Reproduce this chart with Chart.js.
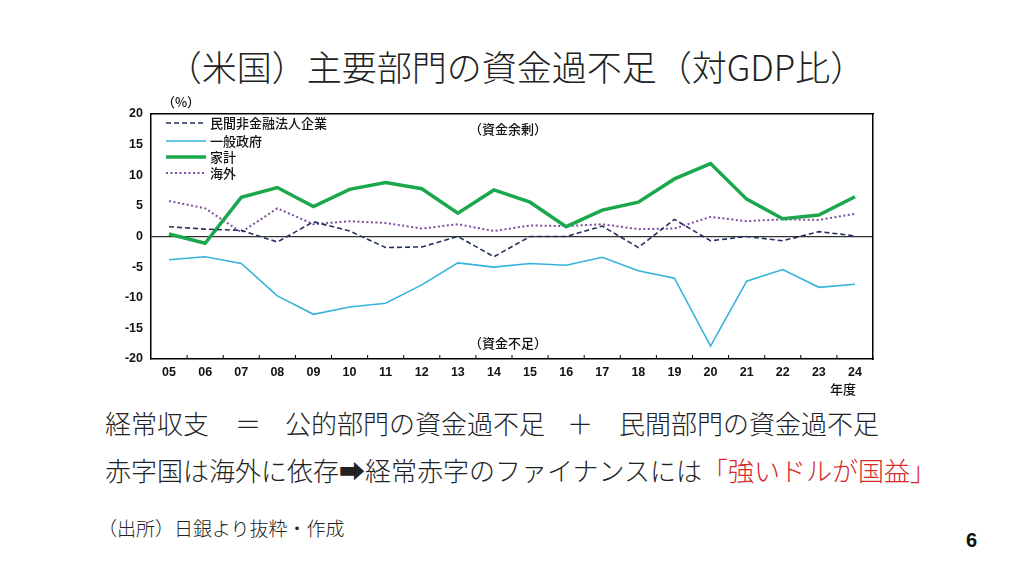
<!DOCTYPE html>
<html>
<head>
<meta charset="utf-8">
<script src="https://cdn.jsdelivr.net/npm/chart.js@4"></script>
<style>
  body { margin: 0; width: 1032px; height: 582px; background: #fff; position: relative; overflow: hidden;
         font-family: "Noto Sans CJK JP", "Noto Sans", sans-serif; color: #222; }
  .t { position: absolute; white-space: nowrap; line-height: 1; }
  #title { left: 0; width: 1032px; text-align: center; top: 48px; font-size: 35px; font-weight: 300; }
  .big { font-size: 26px; font-weight: 300; }
  #src { left: 98px; top: 518px; font-size: 19px; font-weight: 300; }
  #page { left: 966px; top: 530px; font-size: 20px; font-weight: bold; font-family: "Liberation Sans", Arial, sans-serif; color: #111; }
  #wrap { position: absolute; left: 100px; top: 90px; width: 800px; height: 320px; }
</style>
</head>
<body>
<div class="t" id="title">（米国）主要部門の資金過不足（対GDP比）</div>
<div class="t big" style="left:105px;top:410px">経常収支</div>
<div class="t big" style="left:235px;top:410px">＝</div>
<div class="t big" style="left:285px;top:410px">公的部門の資金過不足</div>
<div class="t big" style="left:567px;top:410px">＋</div>
<div class="t big" style="left:619px;top:410px">民間部門の資金過不足</div>
<div class="t big" style="left:105px;top:457px">赤字国は海外に依存➡経常赤字のファイナンスには<span style="color:#d42a2a">「強いドルが国益」</span></div>
<div class="t" id="src">（出所）日銀より抜粋・作成</div>
<div class="t" id="page">6</div>
<div id="wrap"><canvas id="chart" width="800" height="320"></canvas></div>
<script>
// fiscal years
const years = ["05","06","07","08","09","10","11","12","13","14","15","16","17","18","19","20","21","22","23","24"];

// % of GDP
const corporate = [1.6, 1.2, 1.0, -0.9, 2.4, 0.9, -1.8, -1.7, 0.0, -3.3, 0.0, 0.0, 1.7, -1.8, 2.8, -0.7, 0.0, -0.7, 0.8, 0.1];
const government = [-3.8, -3.3, -4.4, -9.7, -12.7, -11.5, -10.9, -7.9, -4.3, -5.0, -4.4, -4.7, -3.4, -5.6, -6.8, -17.9, -7.3, -5.4, -8.3, -7.8];
const household = [0.4, -1.1, 6.4, 8.0, 4.9, 7.7, 8.8, 7.8, 3.8, 7.6, 5.6, 1.6, 4.3, 5.6, 9.4, 11.9, 6.1, 2.9, 3.5, 6.5];
const overseas = [5.8, 4.6, 0.7, 4.6, 2.0, 2.5, 2.2, 1.3, 2.0, 0.9, 1.8, 1.7, 2.0, 1.2, 1.3, 3.2, 2.5, 2.8, 2.7, 3.7];

const seriesNames = ["民間非金融法人企業", "一般政府", "家計", "海外"];

const jp = '"Noto Sans CJK JP", sans-serif';
const tickFont = { family: '"Liberation Sans", Arial, sans-serif', size: 12.5, weight: '600' };

// legend, notes and inner tick marks
const extras = {
  id: 'extras',
  afterDraw(chart) {
    const ctx = chart.ctx;
    const a = chart.chartArea;
    const xs = chart.scales.x;
    ctx.save();

    // tick marks pointing up from the bottom axis
    ctx.strokeStyle = '#000';
    ctx.lineWidth = 1;
    for (let i = 1; i < years.length; i++) {
      let x = (xs.getPixelForValue(i - 1) + xs.getPixelForValue(i)) / 2;
      ctx.beginPath();
      ctx.moveTo(x, a.bottom);
      ctx.lineTo(x, a.bottom - 4);
      ctx.stroke();
    }

    // legend
    ctx.font = '500 13px ' + jp;
    ctx.textBaseline = 'middle';
    ctx.fillStyle = '#111';
    let rows = [33, 51, 67, 83];
    chart.data.datasets.forEach((ds, i) => {
      let y = rows[i];
      ctx.strokeStyle = ds.borderColor;
      ctx.lineWidth = ds.borderWidth;
      ctx.setLineDash(ds.borderDash || []);
      ctx.beginPath();
      ctx.moveTo(a.left + 15, y);
      ctx.lineTo(a.left + 55, y);
      ctx.stroke();
      ctx.setLineDash([]);
      ctx.fillText(ds.label, a.left + 59, y);
    });

    // notes
    ctx.font = '500 13px ' + jp;
    ctx.textAlign = 'center';
    ctx.fillText('（%）', a.left + 30, a.top - 12);
    ctx.fillText('（資金余剰）', a.left + 357, a.top + 15);
    ctx.fillText('（資金不足）', a.left + 357, a.bottom - 16);
    ctx.fillText('年度', a.right - 30, a.bottom + 30);
    ctx.restore();
  }
};

new Chart("chart", {
  type: "line",
  data: {
    labels: years,
    datasets: [{
      label: seriesNames[0],
      data: corporate,
      borderColor: "#23305e",
      borderWidth: 1.6,
      borderDash: [5, 3]
    }, {
      label: seriesNames[1],
      data: government,
      borderColor: "#35b3dc",
      borderWidth: 1.6
    }, {
      label: seriesNames[2],
      data: household,
      borderColor: "#1ba84c",
      borderWidth: 3.5
    }, {
      label: seriesNames[3],
      data: overseas,
      borderColor: "#7d4f9e",
      borderWidth: 2,
      borderDash: [2, 2.5]
    }]
  },
  options: {
    responsive: false,
    animation: false,
    devicePixelRatio: 1,
    layout: { padding: { top: 24, right: 27, left: 0, bottom: 0 } },
    elements: {
      point: { radius: 0 },
      line: { tension: 0, fill: false, borderCapStyle: 'butt' }
    },
    plugins: {
      legend: { display: false },
      tooltip: { enabled: false }
    },
    scales: {
      x: {
        offset: true,
        afterFit(scale) { scale.height = 51; },
        grid: { display: true, drawOnChartArea: false, drawTicks: false },
        border: { display: true, color: '#000', width: 1.5 },
        ticks: { color: '#111', padding: 6, maxRotation: 0, autoSkip: false, font: tickFont }
      },
      y: {
        min: -20,
        max: 20,
        afterFit(scale) { scale.width = 51; },
        grid: {
          drawTicks: false,
          color: ctx => ctx.tick && ctx.tick.value === 0 ? '#333' : 'rgba(0,0,0,0)',
          lineWidth: 1.3
        },
        border: { display: true, color: '#000', width: 1.5 },
        ticks: { stepSize: 5, color: '#111', padding: 8, font: tickFont }
      },
      y2: {
        position: 'right',
        min: -20,
        max: 20,
        afterFit(scale) { scale.width = 0; },
        grid: { display: false },
        border: { display: true, color: '#000', width: 1.5 },
        ticks: { display: false }
      },
      x2: {
        position: 'top',
        afterFit(scale) { scale.height = 0; },
        grid: { display: false },
        border: { display: true, color: '#000', width: 1.5 },
        ticks: { display: false }
      }
    }
  },
  plugins: [extras]
});
</script>
</body>
</html>
